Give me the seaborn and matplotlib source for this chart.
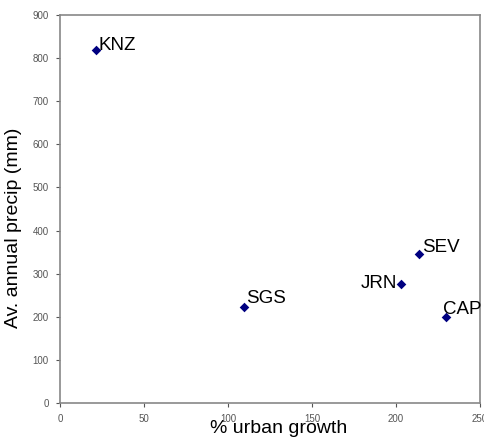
import matplotlib
matplotlib.use("Agg")
import matplotlib.pyplot as plt
import seaborn as sns
import pandas as pd

sites = ["KNZ", "SGS", "JRN", "SEV", "CAP"]
urban_growth = [21.5, 109.5, 203, 213.5, 230]
precip = [819, 223, 277, 346, 199]

df = pd.DataFrame({"site": sites, "growth": urban_growth, "precip": precip})

sns.set_theme(style="white")
plt.rcParams['font.family'] = ['Liberation Sans', 'DejaVu Sans']

fig = plt.figure(figsize=(4.85, 4.37), dpi=100)
ax = fig.add_axes([0.1237, 0.0778, 0.866, 0.888])

sns.scatterplot(data=df, x="growth", y="precip", marker="D", color="#000080",
                s=24, edgecolor="#000080", linewidth=0, ax=ax, zorder=3)

# (dx px, dy px, ha, va)
offsets = {"KNZ": (2, 0, "left", "baseline"), "SGS": (2, 4, "left", "baseline"),
           "JRN": (-4, 0, "right", "center"), "SEV": (3, 2, "left", "baseline"),
           "CAP": (-3, 3, "left", "baseline")}
for s, xg, yp in zip(sites, urban_growth, precip):
    dx, dy, ha, va = offsets[s]
    ax.annotate(s, (xg, yp), xytext=(dx * 0.72, dy * 0.72), textcoords="offset points",
                ha=ha, va=va, fontsize=13.5, color="black", annotation_clip=False)

ax.set_xlim(0, 250)
ax.set_ylim(0, 900)
ax.set_xticks(range(0, 251, 50))
ax.set_yticks(range(0, 901, 100))
for sp in ax.spines.values():
    sp.set_color("#888888")
    sp.set_linewidth(1.2)
ax.tick_params(axis="both", which="major", labelsize=7, colors="#555555",
               direction="out", length=3, width=0.8, bottom=True, left=True, pad=5)
ax.set_xlabel("% urban growth", fontsize=14, color="black")
ax.set_ylabel("Av. annual precip (mm)", fontsize=14, color="black")
ax.xaxis.set_label_coords(0.521, -0.044)
ax.yaxis.set_label_coords(-0.09, 0.451)

fig.savefig("out.png", dpi=100)
